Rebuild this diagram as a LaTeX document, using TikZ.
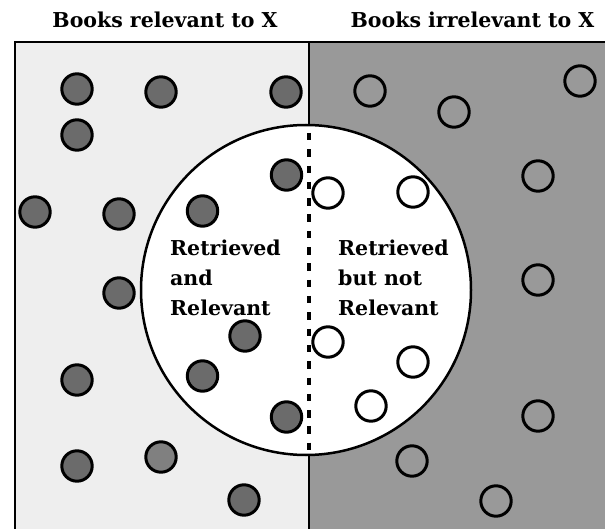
\documentclass[tikz,border=0pt]{standalone}
\usepackage{fontspec}
\setmainfont{DejaVu Serif}
\definecolor{paleside}{HTML}{EEEEEE}
\definecolor{darkside}{HTML}{999999}
\definecolor{dotgray}{HTML}{6B6B6B}
\definecolor{dotgraylight}{HTML}{808080}
\begin{document}
\begin{tikzpicture}[x=1pt,y=-1pt,
  reldot/.style={circle,draw=black,line width=3pt,fill=dotgray,minimum size=30.4pt,inner sep=0pt},
  irrdot/.style={circle,draw=black,line width=3pt,minimum size=30.4pt,inner sep=0pt},
  lbl/.style={font=\bfseries\fontsize{20.5}{30}\selectfont,align=left,inner sep=0pt,anchor=base west},
  ttl/.style={font=\bfseries\fontsize{20.5}{24}\selectfont,inner sep=0pt,anchor=base}]
\useasboundingbox (0,0) rectangle (605,529);
\begin{scope}
\clip (0,0) rectangle (605,529);
\fill[paleside] (15,42) rectangle (309,540);
\fill[darkside] (309,42) rectangle (620,540);
\draw[line width=2pt] (15,540) -- (15,42) -- (620,42);
\draw[line width=1.5pt] (309,42) -- (309,540);
\end{scope}
\node[ttl] (t1) at (165,28) {Books relevant to X};
\node[ttl] (t2) at (472.5,28) {Books irrelevant to X};
\node[circle,draw=black,line width=2.5pt,fill=white,minimum size=330pt,inner sep=0pt] (ret) at (306,290) {};
\draw[line width=4pt,dash pattern=on 7.5pt off 8.8pt] (309,133) -- (309,455);
% relevant, not retrieved
\node[reldot] (a1) at (77,89) {};
\node[reldot] (a2) at (161,92) {};
\node[reldot] (a3) at (286,92) {};
\node[reldot] (a4) at (77,135) {};
\node[reldot] (a5) at (35,212) {};
\node[reldot] (a6) at (119,214) {};
\node[reldot] (a7) at (119,293) {};
\node[reldot] (a8) at (77,380) {};
\node[reldot] (a9) at (77,466) {};
\node[reldot,fill=dotgraylight] (a10) at (161,457) {};
\node[reldot] (a11) at (244,500) {};
% retrieved and relevant
\node[reldot] (b1) at (286.5,175) {};
\node[reldot] (b2) at (202.5,211) {};
\node[reldot] (b3) at (245,336) {};
\node[reldot] (b4) at (202.5,376) {};
\node[reldot] (b5) at (286.5,417) {};
% retrieved not relevant
\node[irrdot,fill=white] (c1) at (328,193) {};
\node[irrdot,fill=white] (c2) at (413,192) {};
\node[irrdot,fill=white] (c3) at (328,342) {};
\node[irrdot,fill=white] (c4) at (413,362) {};
\node[irrdot,fill=white] (c5) at (371,406) {};
% irrelevant not retrieved
\node[irrdot] (d1) at (370,91) {};
\node[irrdot] (d2) at (454,112) {};
\node[irrdot] (d3) at (580,81) {};
\node[irrdot] (d4) at (538,176) {};
\node[irrdot] (d5) at (538,280) {};
\node[irrdot] (d6) at (538,416) {};
\node[irrdot] (d7) at (412,461) {};
\node[irrdot] (d8) at (496,501) {};
% labels
\node[lbl] (l1) at (170,316) {Retrieved\\and\\Relevant};
\node[lbl] (l2) at (338,316) {Retrieved\\but not\\Relevant};
\end{tikzpicture}
\end{document}
